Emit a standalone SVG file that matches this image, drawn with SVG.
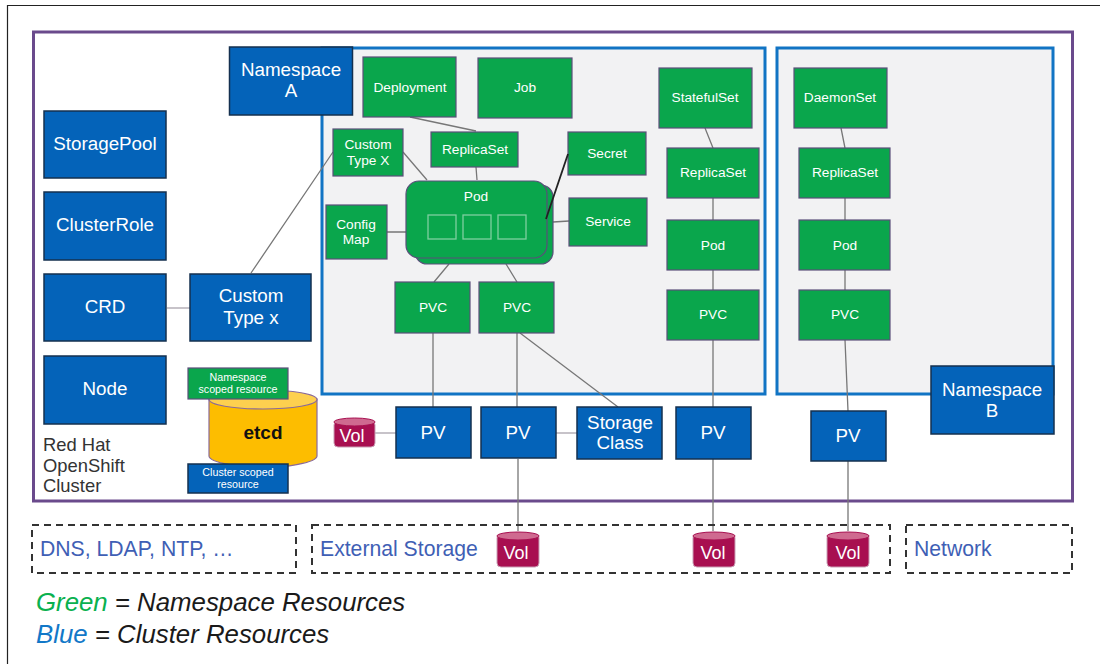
<svg xmlns="http://www.w3.org/2000/svg" width="1100" height="664" viewBox="0 0 1100 664">
<defs><style>
text{font-family:"Liberation Sans",Arial,sans-serif;text-anchor:middle;fill:#fff}
.g{fill:#0aa64c;stroke:#5a4f7a;stroke-width:1.200}
.b{fill:#0463b9;stroke:#14304f;stroke-width:1.500}
.ns{fill:#f2f2f3;stroke:#1174c4;stroke-width:3}
.c{fill:none;stroke:#777;stroke-width:1.300}
.cl{fill:none;stroke:#b5b0b8;stroke-width:1.500}
.d{fill:none;stroke:#333;stroke-width:2;stroke-dasharray:7 5}
.vb{fill:#a80f50;stroke:#c9a0b5;stroke-width:1}
.vt{fill:#cf6a90;stroke:#a80f50;stroke-width:1}
.l{fill:#3f5fb5;text-anchor:start;font-size:21.200px}
.s{font-size:13.700px}.n{font-size:18.800px}.v{font-size:18px}.t{font-size:10.700px}
.r{font-size:18.400px;text-anchor:start;fill:#333}
.lg{font-style:italic;font-size:25.800px;text-anchor:start;fill:#1a1a1a}
</style></defs>
<rect width="1100" height="664" fill="#fff"/>
<path d="M7.500 664V5.500H1100" fill="none" stroke="#222" stroke-width="1.200"/>
<rect id="cluster" x="33.500" y="32" width="1039" height="469" fill="#fff" stroke="#6a4a8c" stroke-width="3"/>
<rect id="ns-a-area" class="ns" x="322" y="48" width="443" height="346"/>
<rect id="ns-b-area" class="ns" x="777" y="48" width="276" height="346"/>
<g id="connectors">
<path class="c" d="M251 273L333 152M410 117L476 131M476 167L477 180M403 152L427 180M387 232H407M553 222L569 221M449 264L434 282M506 264L517 282M433 333V407M517 333V407M520 333L618 407M518 459V531M705 128L713 148M713 198V220M713 270V290M713 340V407M713 459V531M841 128L845 148M845 198V220M845 270V290M845 340L848 411M848 461V531"/>
<path class="cl" d="M167 308H190M556 433H577M375 433H396"/>
</g>
<g id="storagepool"><rect class="b" x="44" y="111" width="122" height="67"/><text x="105" y="150" class="n">StoragePool</text></g>
<g id="clusterrole"><rect class="b" x="44" y="192" width="122" height="68"/><text x="105" y="231" class="n">ClusterRole</text></g>
<g id="crd"><rect class="b" x="44" y="274" width="122" height="67"/><text x="105" y="313" class="n">CRD</text></g>
<g id="node"><rect class="b" x="44" y="356" width="122" height="68"/><text x="105" y="395" class="n">Node</text></g>
<g id="cluster-label"><text x="43" y="451" class="r">Red Hat</text><text x="43" y="472" class="r">OpenShift</text><text x="43" y="492" class="r">Cluster</text></g>
<g id="namespace-a"><rect class="b" x="229.500" y="47" width="123" height="68"/><text x="291" y="76" class="n">Namespace</text><text x="291" y="97" class="n">A</text></g>
<g id="custom-type-x-blue"><rect class="b" x="190" y="274" width="121" height="67"/><text x="251" y="302" class="n">Custom</text><text x="251" y="324" class="n">Type x</text></g>
<g id="deployment"><rect class="g" x="363" y="57" width="93" height="60"/><text x="410" y="92" class="s">Deployment</text></g>
<g id="job"><rect class="g" x="478" y="58" width="94" height="60"/><text x="525" y="92" class="s">Job</text></g>
<g id="custom-type-x"><rect class="g" x="333" y="129" width="70" height="47"/><text x="368" y="149" class="s">Custom</text><text x="368" y="165" class="s">Type X</text></g>
<g id="replicaset-a"><rect class="g" x="431" y="132" width="87" height="35"/><text x="475" y="154" class="s">ReplicaSet</text></g>
<g id="secret"><rect class="g" x="568" y="132" width="78" height="43"/><text x="607" y="158" class="s">Secret</text></g>
<g id="service"><rect class="g" x="569" y="198" width="78" height="48"/><text x="608" y="226" class="s">Service</text></g>
<g id="configmap"><rect class="g" x="326" y="205" width="61" height="54"/><text x="356" y="229" class="s">Config</text><text x="356" y="244" class="s">Map</text></g>
<g id="pod-a"><rect class="g" x="415" y="185" width="138" height="79" rx="12"/><rect class="g" x="406" y="181" width="141" height="77" rx="13"/><text x="476" y="201" class="s">Pod</text><g fill="none" stroke="#7fcfa0" stroke-width="1.300"><rect x="428" y="215" width="28" height="24"/><rect x="463" y="215" width="28" height="24"/><rect x="498" y="215" width="28" height="24"/></g></g>
<path id="secret-link" d="M568 154L546 219" fill="none" stroke="#222" stroke-width="1.800"/>
<g id="pvc-1"><rect class="g" x="395" y="282" width="75" height="51"/><text x="433" y="312" class="s">PVC</text></g>
<g id="pvc-2"><rect class="g" x="479" y="282" width="75" height="51"/><text x="517" y="312" class="s">PVC</text></g>
<g id="statefulset"><rect class="g" x="659" y="68" width="93" height="60"/><text x="705" y="102" class="s">StatefulSet</text></g>
<g id="replicaset-s"><rect class="g" x="667" y="148" width="92" height="50"/><text x="713" y="177" class="s">ReplicaSet</text></g>
<g id="pod-s"><rect class="g" x="667" y="220" width="92" height="50"/><text x="713" y="250" class="s">Pod</text></g>
<g id="pvc-s"><rect class="g" x="667" y="290" width="92" height="50"/><text x="713" y="319" class="s">PVC</text></g>
<g id="daemonset"><rect class="g" x="794" y="68" width="93" height="60"/><text x="840" y="102" class="s">DaemonSet</text></g>
<g id="replicaset-d"><rect class="g" x="799" y="148" width="91" height="50"/><text x="845" y="177" class="s">ReplicaSet</text></g>
<g id="pod-d"><rect class="g" x="799" y="220" width="91" height="50"/><text x="845" y="250" class="s">Pod</text></g>
<g id="pvc-d"><rect class="g" x="799" y="290" width="91" height="50"/><text x="845" y="319" class="s">PVC</text></g>
<g id="namespace-b"><rect class="b" x="931" y="366" width="123" height="68"/><text x="992" y="396" class="n">Namespace</text><text x="992" y="417" class="n">B</text></g>
<g id="etcd"><path d="M209 399V456C209 463 245 468 263 468S317 463 317 456V399Z" fill="#fdbd00" stroke="#8a6a9a" stroke-width="1.200"/><ellipse cx="263" cy="399.500" rx="54" ry="9.500" fill="#fdd04f" stroke="#8a6a9a" stroke-width="1.200"/><text x="263" y="439" font-size="19" font-weight="bold" style="fill:#111">etcd</text></g>
<g id="legend-ns"><rect class="g" x="188" y="368" width="100" height="31"/><text x="238" y="381" class="t">Namespace</text><text x="238" y="393" class="t">scoped resource</text></g>
<g id="legend-cl"><rect class="b" x="188" y="464" width="100" height="29"/><text x="238" y="476" class="t">Cluster scoped</text><text x="238" y="488" class="t">resource</text></g>
<g id="vol-1"><rect class="vb" x="334" y="421" width="41" height="26" rx="4"/><ellipse class="vt" cx="354.500" cy="422" rx="20.500" ry="4"/><text x="352" y="442" class="v">Vol</text></g>
<g id="pv-1"><rect class="b" x="396" y="407" width="75" height="51"/><text x="433" y="439" class="n">PV</text></g>
<g id="pv-2"><rect class="b" x="481" y="407" width="75" height="51"/><text x="518" y="439" class="n">PV</text></g>
<g id="storageclass"><rect class="b" x="577" y="407" width="85" height="52"/><text x="620" y="429" class="n">Storage</text><text x="620" y="449" class="n">Class</text></g>
<g id="pv-3"><rect class="b" x="676" y="407" width="75" height="52"/><text x="713" y="439" class="n">PV</text></g>
<g id="pv-4"><rect class="b" x="811" y="411" width="75" height="50"/><text x="848" y="442" class="n">PV</text></g>
<rect id="ext-dns" class="d" x="32" y="525" width="264" height="48"/>
<text x="40" y="556" class="l">DNS, LDAP, NTP, …</text>
<rect id="ext-storage" class="d" x="312" y="525" width="578" height="48"/>
<text x="320" y="556" class="l">External Storage</text>
<rect id="ext-network" class="d" x="906" y="525" width="166" height="48"/>
<text x="914" y="556" class="l">Network</text>
<g id="vol-2"><rect class="vb" x="497" y="534" width="42" height="33" rx="4"/><ellipse class="vt" cx="518" cy="536" rx="21" ry="4"/><text x="516" y="559" class="v">Vol</text></g>
<g id="vol-3"><rect class="vb" x="693" y="534" width="42" height="33" rx="4"/><ellipse class="vt" cx="714" cy="536" rx="21" ry="4"/><text x="713" y="559" class="v">Vol</text></g>
<g id="vol-4"><rect class="vb" x="827" y="534" width="42" height="33" rx="4"/><ellipse class="vt" cx="848" cy="536" rx="21" ry="4"/><text x="848" y="559" class="v">Vol</text></g>
<text x="36" y="611" class="lg"><tspan fill="#0ab14f">Green</tspan> = Namespace Resources</text>
<text x="36" y="643" class="lg"><tspan fill="#1278c8">Blue</tspan> = Cluster Resources</text>
</svg>
